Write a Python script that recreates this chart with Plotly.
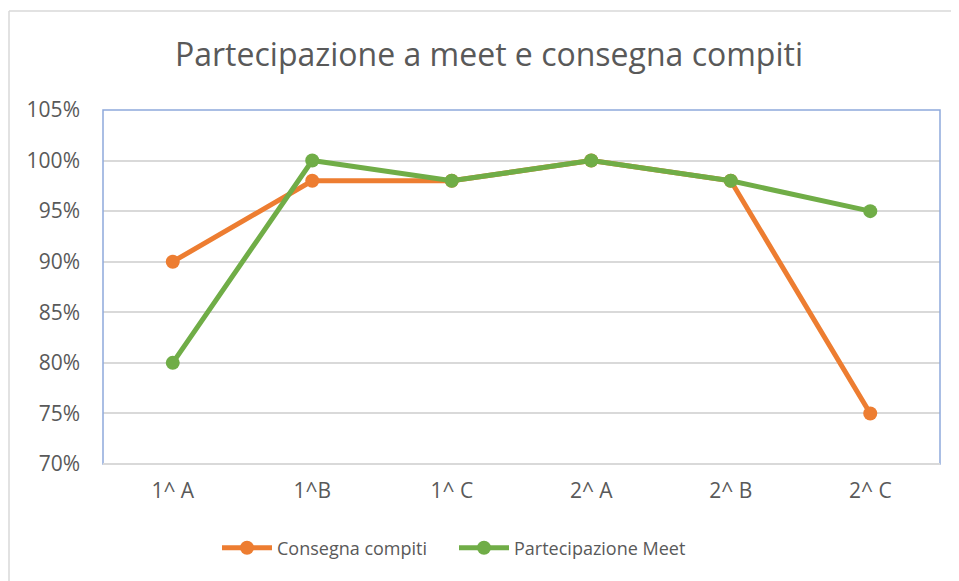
import plotly.graph_objects as go

categories = ["1^ A", "1^B", "1^ C", "2^ A", "2^ B", "2^ C"]
consegna_compiti = [0.90, 0.98, 0.98, 1.00, 0.98, 0.75]
partecipazione_meet = [0.80, 1.00, 0.98, 1.00, 0.98, 0.95]
y_ticks = [0.70, 0.75, 0.80, 0.85, 0.90, 0.95, 1.00, 1.05]

FONT = "Open Sans"
TXT = "#595959"

fig = go.Figure()
fig.add_trace(go.Scatter(
    x=categories, y=consegna_compiti, name="Consegna compiti",
    mode="lines+markers",
    line=dict(color="#ED7D31", width=5),
    marker=dict(color="#ED7D31", size=14),
))
fig.add_trace(go.Scatter(
    x=categories, y=partecipazione_meet, name="Partecipazione Meet",
    mode="lines+markers",
    line=dict(color="#70AD47", width=5),
    marker=dict(color="#70AD47", size=14),
))

OFF = 8  # page body margin
W, H = 959 - OFF, 581 - OFF
L, T = 103 - OFF, 110 - OFF
R = (959 - OFF) - (940 - OFF)
B = H - (464 - OFF)
pw, ph = W - L - R, H - T - B

def px(x):  # screen x -> paper
    return (x - OFF - L) / pw

def py(y):  # screen y -> paper
    return (H - B - (y - OFF)) / ph

fig.update_layout(
    width=W, height=H,
    margin=dict(l=L, r=R, t=T, b=B),
    paper_bgcolor="white", plot_bgcolor="white",
    font=dict(family=FONT, color=TXT, size=16),
    title=dict(text="Partecipazione a meet e consegna compiti",
               x=px(489), xanchor="center", xref="paper",
               y=1 - (55 - OFF) / H, yanchor="middle",
               font=dict(size=32, color=TXT, family=FONT)),
    showlegend=True,
    legend=dict(orientation="h", x=px(454), xanchor="center", xref="paper",
                y=py(548), yanchor="middle",
                font=dict(size=18, color=TXT, family=FONT),
                itemwidth=50, entrywidth=172),
    xaxis=dict(type="category", range=[-0.5, 5.5], showgrid=False,
               showline=False, ticks="", tickfont=dict(size=21, color=TXT),
               ticklabelstandoff=12, zeroline=False),
    yaxis=dict(range=[0.70, 1.05], tickvals=y_ticks, tickformat=".0%",
               showgrid=True, gridcolor="#D9D9D9", gridwidth=2,
               showline=False, ticks="", tickfont=dict(size=21, color=TXT),
               ticklabelstandoff=22, zeroline=False),
    shapes=[
        dict(type="rect", xref="paper", yref="paper", x0=0, x1=1, y0=0, y1=1,
             line=dict(color="#8EA9DB", width=1.5), layer="above"),
        dict(type="line", xref="paper", yref="paper", x0=0, x1=1, y0=0, y1=0,
             line=dict(color="#D9D9D9", width=2), layer="above"),
        dict(type="line", xref="paper", yref="paper", x0=px(9), x1=px(975),
             y0=py(11), y1=py(11), line=dict(color="#D9D9D9", width=1.5)),
        dict(type="line", xref="paper", yref="paper", x0=px(9), x1=px(9),
             y0=py(11), y1=py(600), line=dict(color="#D9D9D9", width=1.5)),
    ],
)

fig.write_html("out.html")
